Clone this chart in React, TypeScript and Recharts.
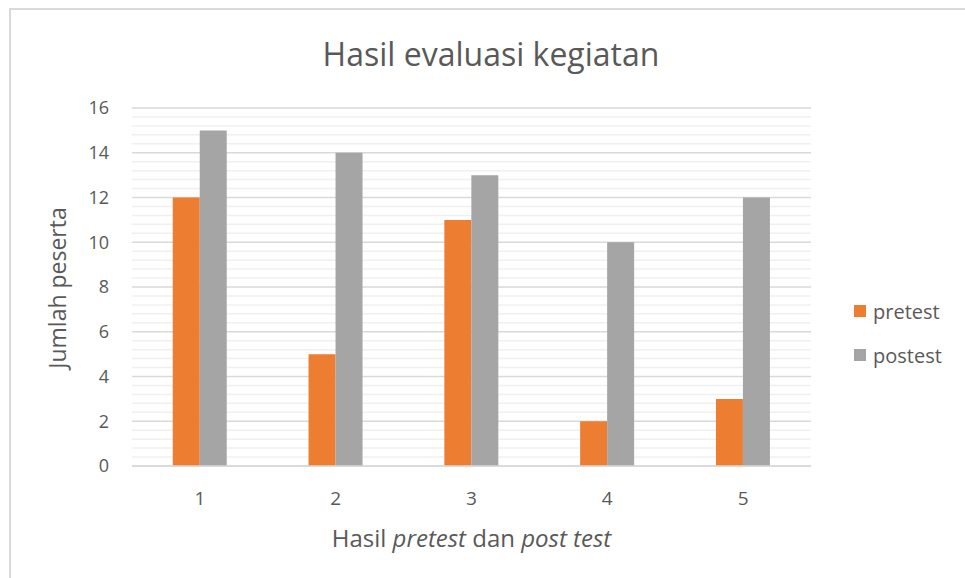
import { BarChart, Bar, XAxis, YAxis, CartesianGrid, Label } from "recharts";

const categories = ["1", "2", "3", "4", "5"];
const pretest = [12, 5, 11, 2, 3];
const postest = [15, 14, 13, 10, 12];
const yTicks = [0, 2, 4, 6, 8, 10, 12, 14, 16];

const data = categories.map((name, i) => ({ name, pretest: pretest[i], postest: postest[i] }));

// light minor lines between the major ticks (every 0.4)
const minorLines: number[] = [];
for (let i = 1; i < 40; i++) {
  if (i % 5 !== 0) minorLines.push(+(i * 0.4).toFixed(1));
}

const FONT = "'Open Sans', sans-serif";
const TEXT = "#595959";

function XLabel(props: any) {
  const { viewBox } = props;
  const cx = viewBox.x + viewBox.width / 2;
  return (
    <text x={cx} y={viewBox.y + 81} textAnchor="middle" fill={TEXT} fontSize={24} fontFamily={FONT}>
      Hasil <tspan fontStyle="italic">pretest</tspan> dan <tspan fontStyle="italic">post test</tspan>
    </text>
  );
}

function YLabel(props: any) {
  const { viewBox } = props;
  const cy = viewBox.y + viewBox.height / 2 + 1;
  const x = 66;
  return (
    <text
      x={x}
      y={cy}
      transform={`rotate(-90 ${x} ${cy})`}
      textAnchor="middle"
      fill={TEXT}
      fontSize={23}
      fontFamily={FONT}
    >
      Jumlah peserta
    </text>
  );
}

const legendItems = [
  { label: "pretest", color: "#ED7D31" },
  { label: "postest", color: "#A5A5A5" },
];

export default function App() {
  return (
    <div style={{ position: "absolute", left: 0, top: 0, width: 965, height: 578, background: "#fff", overflow: "hidden" }}>
      <div
        style={{
          position: "absolute",
          left: 9,
          top: 8,
          width: 970,
          height: 580,
          border: "2px solid #D9D9D9",
          boxSizing: "border-box",
        }}
      />
      <div
        style={{
          position: "absolute",
          left: 0,
          top: 32,
          width: 982,
          textAlign: "center",
          fontFamily: FONT,
          fontSize: 32,
          color: TEXT,
        }}
      >
        Hasil evaluasi kegiatan
      </div>
      <BarChart
        width={965}
        height={578}
        data={data}
        margin={{ top: 108, right: 154, bottom: 82, left: 72 }}
        barCategoryGap="30%"
        barGap={0}
        style={{ position: "absolute", left: 0, top: 0 }}
      >
        <CartesianGrid vertical={false} horizontalValues={minorLines} stroke="#F0F0F0" strokeWidth={1.5} />
        <CartesianGrid vertical={false} stroke="#D9D9D9" strokeWidth={1.5} />
        <XAxis
          dataKey="name"
          height={30}
          tickLine={false}
          axisLine={{ stroke: "#D9D9D9", strokeWidth: 1.5 }}
          tick={{ fill: TEXT, fontSize: 19, fontFamily: FONT }}
          tickMargin={20}
        >
          <Label content={<XLabel />} />
        </XAxis>
        <YAxis
          width={60}
          domain={[0, 16]}
          ticks={yTicks}
          interval={0}
          tickLine={false}
          axisLine={false}
          tick={{ fill: TEXT, fontSize: 18, fontFamily: FONT }}
          tickMargin={17}
        >
          <Label content={<YLabel />} />
        </YAxis>
        <Bar dataKey="pretest" fill="#ED7D31" isAnimationActive={false} />
        <Bar dataKey="postest" fill="#A5A5A5" isAnimationActive={false} />
      </BarChart>
      <div style={{ position: "absolute", left: 854, top: 289, fontFamily: FONT, fontSize: 20, color: TEXT }}>
        {legendItems.map((it) => (
          <div key={it.label} style={{ display: "flex", alignItems: "center", height: 44 }}>
            <span style={{ width: 12, height: 12, background: it.color, marginRight: 7 }} />
            {it.label}
          </div>
        ))}
      </div>
    </div>
  );
}
